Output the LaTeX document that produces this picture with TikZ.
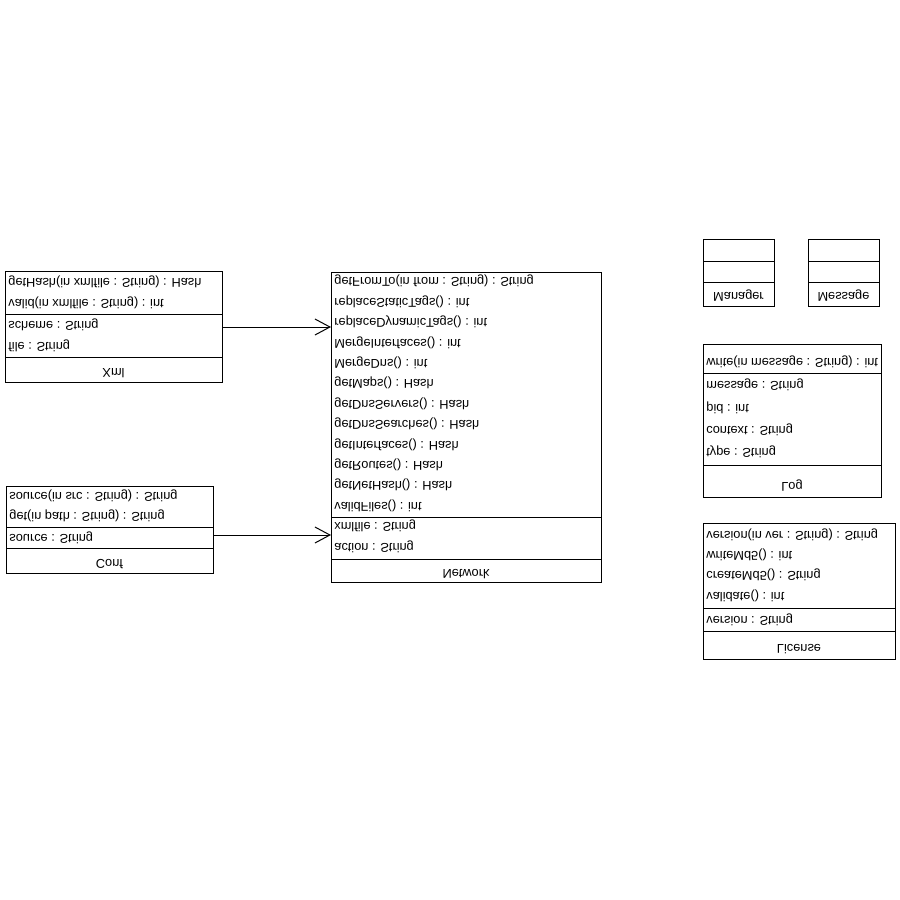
\documentclass[tikz,border=0pt]{standalone}
\usepackage{fontspec}
\setmainfont{Liberation Sans}
\usetikzlibrary{arrows.meta}

\begin{document}
\begin{tikzpicture}[x=0.5pt, y=-0.5pt,
    classbox/.style={draw, line width=0.5pt, anchor=north west, inner sep=0pt},
    member/.style={anchor=west, yscale=-1, inner sep=0pt, font=\fontsize{6.4pt}{7pt}\selectfont, text height=1.5ex, text depth=1.3ex},
    title/.style={member, anchor=center},
    arr/.style={draw, line width=0.5pt, -{Straight Barb[length=7.5pt, width=8pt]}}]
    \useasboundingbox (0,0) rectangle (900,900);

    % Xml
    \node[classbox, minimum width=108.5pt, minimum height=55.5pt] (xml) at (5,271) {};
    \draw[line width=0.5pt] (5,314) -- (222,314);
    \draw[line width=0.5pt] (5,357) -- (222,357);
    \node[member] (xmlgethash) at (8,280) {getHash(in xmlfile : String) : Hash};
    \node[member] (xmlvalid) at (8,301) {valid(in xmlfile : String) : int};
    \node[member] (xmlscheme) at (8,323) {scheme : String};
    \node[member] (xmlfile) at (8,344) {file : String};
    \node[title] (xmlname) at (113.5,370) {Xml};

    % Conf
    \node[classbox, minimum width=103.5pt, minimum height=43.5pt] (conf) at (6,486) {};
    \draw[line width=0.5pt] (6,527) -- (213,527);
    \draw[line width=0.5pt] (6,548) -- (213,548);
    \node[member] (confsourcein) at (9,494) {source(in src : String) : String};
    \node[member] (confget) at (9,514) {get(in path : String) : String};
    \node[member] (confsource) at (9,536) {source : String};
    \node[title] (confname) at (109.5,561) {Conf};

    % Network
    \node[classbox, minimum width=135pt, minimum height=155pt] (network) at (331,272) {};
    \draw[line width=0.5pt] (331,517) -- (601,517);
    \draw[line width=0.5pt] (331,559) -- (601,559);
    \node[member] (netfromto) at (334,279) {getFromTo(in from : String) : String};
    \node[member] (netstatic) at (334,299.4) {replaceStaticTags() : int};
    \node[member] (netdynamic) at (334,319.8) {replaceDynamicTags() : int};
    \node[member] (netmergeif) at (334,340.2) {MergeInterfaces() : int};
    \node[member] (netmergedns) at (334,360.6) {MergeDns() : int};
    \node[member] (netmaps) at (334,381) {getMaps() : Hash};
    \node[member] (netservers) at (334,401.4) {getDnsServers() : Hash};
    \node[member] (netsearches) at (334,421.8) {getDnsSearches() : Hash};
    \node[member] (netifaces) at (334,442.2) {getInterfaces() : Hash};
    \node[member] (netroutes) at (334,462.6) {getRoutes() : Hash};
    \node[member] (nethash) at (334,483) {getNetHash() : Hash};
    \node[member] (netvalid) at (334,503.4) {validFiles() : int};
    \node[member] (netxmlfile) at (334,524) {xmlfile : String};
    \node[member] (netaction) at (334,545) {action : String};
    \node[title] (netname) at (466,571) {Network};

    % Manager, Message
    \node[classbox, minimum width=35.5pt, minimum height=33.5pt] (manager) at (703,239) {};
    \draw[line width=0.5pt] (703,261) -- (774,261);
    \draw[line width=0.5pt] (703,282) -- (774,282);
    \node[title] (managername) at (738.5,294) {Manager};
    \node[classbox, minimum width=35.5pt, minimum height=33.5pt] (message) at (808,239) {};
    \draw[line width=0.5pt] (808,261) -- (879,261);
    \draw[line width=0.5pt] (808,282) -- (879,282);
    \node[title] (messagename) at (843.5,294) {Message};

    % Log
    \node[classbox, minimum width=89pt, minimum height=76.5pt] (log) at (703,344) {};
    \draw[line width=0.5pt] (703,373) -- (881,373);
    \draw[line width=0.5pt] (703,465) -- (881,465);
    \node[member] (logwrite) at (706,360) {write(in message : String) : int};
    \node[member] (logmessage) at (706,383) {message : String};
    \node[member] (logpid) at (706,406) {pid : int};
    \node[member] (logcontext) at (706,428) {context : String};
    \node[member] (logtype) at (706,450) {type : String};
    \node[title] (logname) at (792,484) {Log};

    % License
    \node[classbox, minimum width=96pt, minimum height=68pt] (license) at (703,523) {};
    \draw[line width=0.5pt] (703,608) -- (895,608);
    \draw[line width=0.5pt] (703,631) -- (895,631);
    \node[member] (licversionin) at (706,533) {version(in ver : String) : String};
    \node[member] (licwrite) at (706,553) {writeMd5() : int};
    \node[member] (liccreate) at (706,573) {createMd5() : String};
    \node[member] (licvalidate) at (706,594) {validate() : int};
    \node[member] (licversion) at (706,618) {version : String};
    \node[title] (licname) at (799,646) {License};

    \draw[arr] (xml.east) -- (xml.east -| network.west);
    \draw[arr] ([yshift=-2.5pt]conf.east) -- ([yshift=-2.5pt]conf.east -| network.west);
\end{tikzpicture}
\end{document}
